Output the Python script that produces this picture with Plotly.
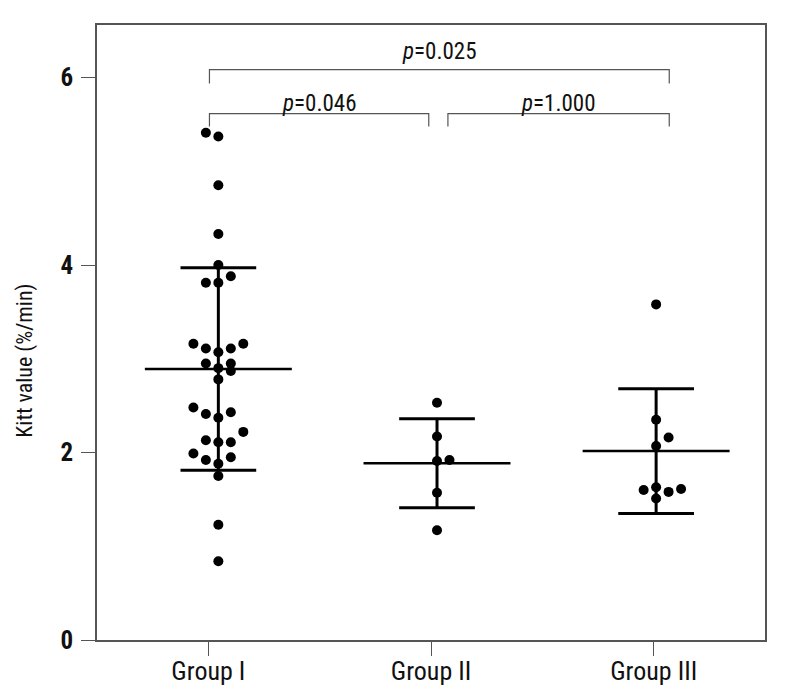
import plotly.graph_objects as go

# ---- data ----
groups = ["Group I", "Group II", "Group III"]

group1_values = [5.41, 5.37, 4.85, 4.33, 4.00, 3.81, 3.81, 3.88,
                 3.16, 3.11, 3.07, 3.11, 3.16,
                 2.95, 2.90, 2.95, 2.87, 2.78,
                 2.48, 2.41, 2.37, 2.43, 2.22,
                 2.13, 2.11, 2.11,
                 1.99, 1.92, 1.88, 1.95,
                 1.75, 1.23, 0.84]
group2_values = [2.53, 2.17, 1.91, 1.92, 1.57, 1.17]
group3_values = [3.58, 2.35, 2.16, 2.07, 1.60, 1.63, 1.58, 1.61, 1.51]

group_means = [2.89, 1.885, 2.015]
group_sds = [1.08, 0.475, 0.665]

p_labels = ["p=0.025", "p=0.046", "p=1.000"]

y_ticks = [0, 2, 4, 6]

# ---- layout helpers (positions / styles) ----
group1_cols = [-1, 0, 0, 0, 0, -1, 0, 1,
               -2, -1, 0, 1, 2,
               -1, 0, 1, 1, 0,
               -2, -1, 0, 1, 2,
               -1, 0, 1,
               -2, -1, 0, 1,
               0, 0, 0]
group2_cols = [0, 0, 0, 1, 0, 0]
group3_cols = [0, 0, 1, 0, -1, 0, 1, 2, 0]
center_shift = [0.045, 0.027, 0.011]
col_step = 0.056
mean_half = 0.33
cap_half = 0.17

FONT = "Roboto Condensed, Liberation Sans Narrow, Roboto, sans-serif"

fig = go.Figure()

all_vals = [group1_values, group2_values, group3_values]
all_cols = [group1_cols, group2_cols, group3_cols]

# error bars (mean +/- SD)
lx, ly = [], []
for i in range(3):
    c = i + center_shift[i]
    m, s = group_means[i], group_sds[i]
    lx += [c, c, None]
    ly += [m - s, m + s, None]
    lx += [c - cap_half, c + cap_half, None, c - cap_half, c + cap_half, None]
    ly += [m + s, m + s, None, m - s, m - s, None]
fig.add_trace(go.Scatter(x=lx, y=ly, mode="lines",
                         line=dict(color="black", width=3),
                         hoverinfo="skip", showlegend=False))
mx, my = [], []
for i in range(3):
    c = i + center_shift[i]
    mx += [c - mean_half, c + mean_half, None]
    my += [group_means[i], group_means[i], None]
fig.add_trace(go.Scatter(x=mx, y=my, mode="lines",
                         line=dict(color="black", width=2.5),
                         hoverinfo="skip", showlegend=False))

# points
for i in range(3):
    xs = [i + center_shift[i] + col * col_step for col in all_cols[i]]
    fig.add_trace(go.Scatter(x=xs, y=all_vals[i], mode="markers",
                             marker=dict(color="black", size=10,
                                         line=dict(width=0)),
                             showlegend=False, name=groups[i]))

# significance brackets
bracket_color = "#555555"
brackets = [
    (0.005, 2.07, 6.085, 5.935, p_labels[0], 3),
    (0.005, 0.99, 5.615, 5.477, p_labels[1], -5),
    (1.076, 2.07, 5.615, 5.477, p_labels[2], -5),
]
for x0, x1, ytop, yend, lab, ysh in brackets:
    fig.add_trace(go.Scatter(x=[x0, x0, x1, x1], y=[yend, ytop, ytop, yend],
                             mode="lines", line=dict(color=bracket_color, width=1.2),
                             hoverinfo="skip", showlegend=False))
    p, rest = lab.split("=")
    fig.add_annotation(x=(x0 + x1) / 2, y=ytop, yanchor="bottom", yshift=ysh,
                       text=f"<i>{p}</i>={rest}", showarrow=False,
                       font=dict(family=FONT, size=23, color="#111111"))

axis_common = dict(showline=True, linecolor="#555555", linewidth=1.5, mirror=True,
                   ticks="outside", ticklen=14, tickcolor="#555555", tickwidth=1,
                   showgrid=False, zeroline=False, automargin=False)

# y-axis title
fig.add_annotation(xref="paper", yref="paper", x=-0.108, y=0.454,
                   text="Kitt value (%/min)", textangle=-90, showarrow=False,
                   xanchor="center", yanchor="middle",
                   font=dict(family=FONT, size=22, color="#111111"))

fig.update_layout(
    width=779, height=686,
    margin=dict(l=89, r=22, t=17, b=54),
    paper_bgcolor="white", plot_bgcolor="white",
    xaxis=dict(range=[-0.5, 2.5], tickvals=[0, 1, 2], ticktext=groups,
               tickfont=dict(family=FONT, size=26, color="#111111"),
               ticklabelstandoff=-7,
               **axis_common),
    yaxis=dict(range=[0, 6.56], tickvals=y_ticks,
               ticktext=[str(t) for t in y_ticks],
               tickfont=dict(family=FONT, size=25, color="#111111", weight="bold"),
               ticklabelstandoff=3,
               **axis_common),
)

fig.write_html("out.html")
